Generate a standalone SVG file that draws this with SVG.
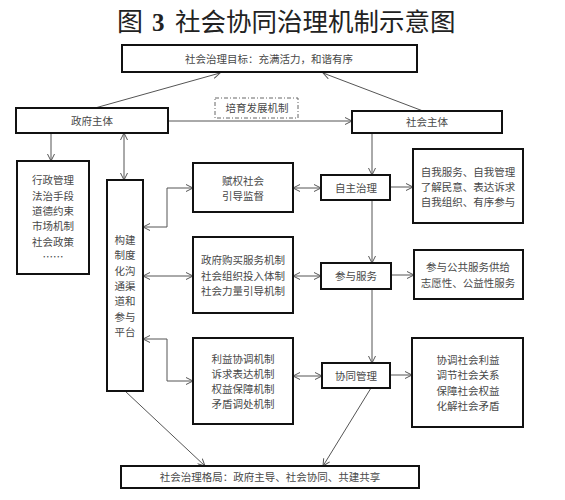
<svg xmlns="http://www.w3.org/2000/svg" width="565" height="500" viewBox="0 0 565 500">
<defs>
<marker id="ah" viewBox="0 0 8 8" refX="7.5" refY="4" markerWidth="8" markerHeight="8" markerUnits="userSpaceOnUse" orient="auto-start-reverse">
<path d="M0.5,0.5 L7.5,4 L0.5,7.5" fill="none" stroke="#555" stroke-width="1"/>
</marker>
</defs>
<style>
.box{fill:#fff;stroke:#111;stroke-width:2}
.dash{fill:#fff;stroke:#666;stroke-width:1;stroke-dasharray:4 2 1 2}
.t{font-family:"Noto Sans CJK SC",sans-serif;font-size:10.5px;fill:#484848;text-anchor:middle}
.c{fill:none;stroke:#555;stroke-width:1}
.a{marker-end:url(#ah)}
.d{marker-start:url(#ah);marker-end:url(#ah)}
</style>
<rect width="565" height="500" fill="#fff"/>
<g id="title">
<text x="117" y="31" font-family="Noto Sans CJK SC,sans-serif" font-size="26" fill="#222">图</text>
<text x="152" y="31" font-family="Liberation Serif,serif" font-weight="bold" font-size="25" fill="#222">3</text>
<text x="175" y="31" font-family="Noto Sans CJK SC,sans-serif" font-size="25.5" fill="#222">社会协同治理机制示意图</text>
</g>
<g id="connectors">
<line class="c a" x1="95" y1="108" x2="220" y2="73"/>
<line class="c a" x1="423" y1="111" x2="323" y2="73"/>
<line class="c a" x1="168" y1="121" x2="352" y2="121"/>
<line class="c a" x1="51" y1="133" x2="51" y2="161"/>
<line class="c d" x1="124" y1="133" x2="124" y2="180"/>
<line class="c a" x1="372" y1="133" x2="372" y2="175"/>
<path class="c d" d="M143,227 H167 V188 H193"/>
<line class="c d" x1="293" y1="188" x2="321" y2="188"/>
<line class="c a" x1="390" y1="187" x2="413" y2="187"/>
<line class="c a" x1="372" y1="200" x2="372" y2="263"/>
<line class="c d" x1="143" y1="276" x2="193" y2="276"/>
<line class="c d" x1="293" y1="276" x2="321" y2="276"/>
<line class="c a" x1="391" y1="275" x2="414" y2="275"/>
<line class="c a" x1="372" y1="289" x2="372" y2="363"/>
<path class="c d" d="M143,339 H167 V381 H193"/>
<line class="c d" x1="293" y1="376" x2="322" y2="376"/>
<line class="c a" x1="390" y1="375" x2="412" y2="375"/>
<line class="c a" x1="125" y1="391" x2="205" y2="466"/>
<line class="c a" x1="371" y1="388" x2="323" y2="466"/>
</g>
<g id="goal">
<rect class="box" x="122" y="45" width="295" height="27"/>
<text class="t" x="269" y="63">社会治理目标：充满活力，和谐有序</text>
</g>
<g id="gov">
<rect class="box" x="16" y="108" width="152" height="25"/>
<text class="t" x="92" y="125">政府主体</text>
</g>
<g id="cultivate">
<rect class="dash" x="215" y="98" width="83" height="20"/>
<text class="t" x="257" y="112">培育发展机制</text>
</g>
<g id="soc">
<rect class="box" x="352" y="111" width="150" height="22"/>
<text class="t" x="427" y="126">社会主体</text>
</g>
<g id="means">
<rect class="box" x="17" y="161" width="72" height="113"/>
<text class="t" x="53" y="184.3">行政管理</text>
<text class="t" x="53" y="199.6">法治手段</text>
<text class="t" x="53" y="214.9">道德约束</text>
<text class="t" x="53" y="230.2">市场机制</text>
<text class="t" x="53" y="245.5">社会政策</text>
<text class="t" x="53" y="260.8">……</text>
</g>
<g id="platform">
<rect class="box" x="107" y="180" width="36" height="211"/>
<text class="t" x="125" y="244">构建</text>
<text class="t" x="125" y="259.3">制度</text>
<text class="t" x="125" y="274.6">化沟</text>
<text class="t" x="125" y="289.9">通渠</text>
<text class="t" x="125" y="305.2">道和</text>
<text class="t" x="125" y="320.5">参与</text>
<text class="t" x="125" y="335.8">平台</text>
</g>
<g id="empower">
<rect class="box" x="193" y="163" width="100" height="49"/>
<text class="t" x="243" y="184.9">赋权社会</text>
<text class="t" x="243" y="200.2">引导监督</text>
</g>
<g id="purchase">
<rect class="box" x="193" y="237" width="100" height="76"/>
<text class="t" x="243" y="264.2">政府购买服务机制</text>
<text class="t" x="243" y="279.5">社会组织投入体制</text>
<text class="t" x="243" y="294.8">社会力量引导机制</text>
</g>
<g id="interest">
<rect class="box" x="193" y="338" width="100" height="86"/>
<text class="t" x="243" y="362.5">利益协调机制</text>
<text class="t" x="243" y="377.8">诉求表达机制</text>
<text class="t" x="243" y="393.1">权益保障机制</text>
<text class="t" x="243" y="408.4">矛盾调处机制</text>
</g>
<g id="selfgov">
<rect class="box" x="321" y="175" width="69" height="25"/>
<text class="t" x="356" y="192">自主治理</text>
</g>
<g id="service">
<rect class="box" x="321" y="263" width="70" height="26"/>
<text class="t" x="356" y="280">参与服务</text>
</g>
<g id="cooperate">
<rect class="box" x="322" y="363" width="68" height="25"/>
<text class="t" x="356" y="380">协同管理</text>
</g>
<g id="self">
<rect class="box" x="413" y="149" width="110" height="74"/>
<text class="t" x="468" y="175.7">自我服务、自我管理</text>
<text class="t" x="468" y="191">了解民意、表达诉求</text>
<text class="t" x="468" y="206.3">自我组织、有序参与</text>
</g>
<g id="public">
<rect class="box" x="414" y="250" width="109" height="49"/>
<text class="t" x="468" y="271.4">参与公共服务供给</text>
<text class="t" x="468" y="286.7">志愿性、公益性服务</text>
</g>
<g id="coord">
<rect class="box" x="412" y="338" width="111" height="89"/>
<text class="t" x="468" y="364">协调社会利益</text>
<text class="t" x="468" y="379.3">调节社会关系</text>
<text class="t" x="468" y="394.6">保障社会权益</text>
<text class="t" x="468" y="409.9">化解社会矛盾</text>
</g>
<g id="pattern">
<rect class="box" x="121" y="466" width="298" height="22"/>
<text class="t" x="270" y="481">社会治理格局：政府主导、社会协同、共建共享</text>
</g>
</svg>
